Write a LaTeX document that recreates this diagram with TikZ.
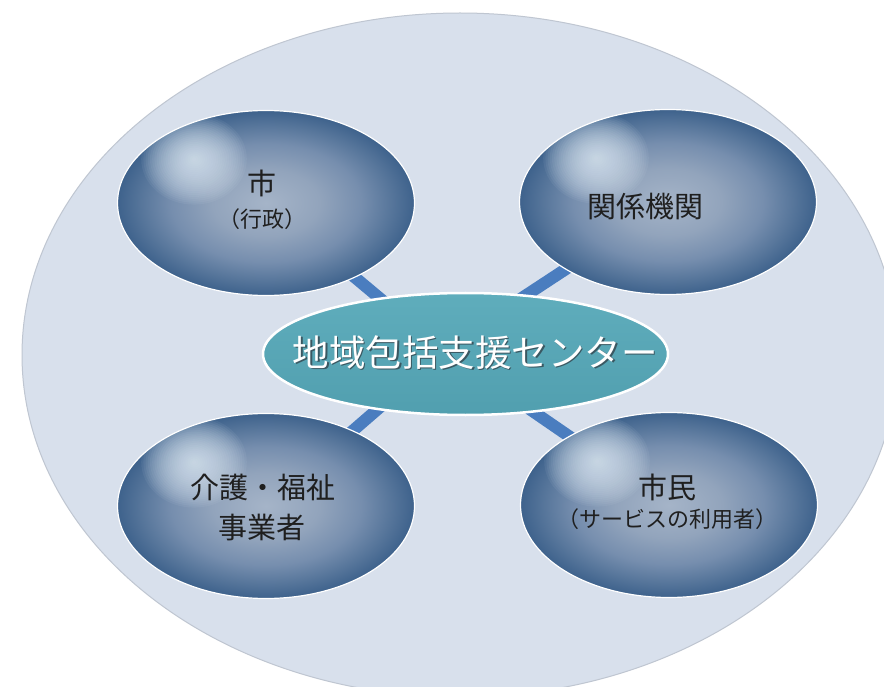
\documentclass[tikz,border=0pt]{standalone}
\usepackage{fontspec}
\newfontfamily\jpfont{Noto Sans CJK JP}
\usetikzlibrary{shapes.geometric,calc}
\definecolor{bgfill}{HTML}{D8E0EC}
\definecolor{bgrim}{HTML}{BFC6D1}
\definecolor{barblue}{HTML}{4A7DBF}
\definecolor{hubtop}{HTML}{5FADBC}
\definecolor{hubbot}{HTML}{519FAF}
\definecolor{hlcol}{HTML}{E8F3FC}
\definecolor{txtcol}{HTML}{1F1F1F}
\definecolor{shadowcol}{HTML}{3A5862}
\definecolor{ballA}{HTML}{A5B4C8}
\definecolor{ballB}{HTML}{92A4BC}
\definecolor{ballC}{HTML}{768EAE}
\definecolor{ballD}{HTML}{57769B}
\definecolor{ballE}{HTML}{3E628C}
\pgfdeclareradialshading{ballshade}{\pgfpointorigin}{color(0bp)=(ballA); color(9bp)=(ballB); color(16bp)=(ballC); color(21bp)=(ballD); color(25bp)=(ballE); color(50bp)=(ballE)}
\pgfdeclarelayer{bg}
\pgfsetlayers{bg,main}
\begin{document}
\begin{tikzpicture}[x=1pt,y=-1pt,
  ball/.style={ellipse, minimum width=297pt, minimum height=185pt, inner sep=0pt,
    shade, shading=ballshade, draw=white, line width=1.2pt,
    path picture={\foreach \k in {1,...,24}{\fill[hlcol, opacity=0.06] ([xshift=-72pt,yshift=44pt]path picture bounding box.center) ellipse [x radius=\k*2.2pt, y radius=\k*1.9pt];}}},
  hub/.style={ellipse, minimum width=405pt, minimum height=122pt, inner sep=0pt,
    top color=hubtop, bottom color=hubbot, draw=white, line width=2.5pt},
  bar/.style={barblue, line width=12pt},
  mainlbl/.style={font=\jpfont\fontsize{29pt}{34pt}\selectfont, text=txtcol, inner sep=0pt},
  sublbl/.style={font=\jpfont\fontsize{22pt}{26pt}\selectfont, text=txtcol, inner sep=0pt},
  hublbl/.style={font=\jpfont\fontsize{36.5pt}{42pt}\selectfont, inner sep=0pt}
]
\useasboundingbox (0,0) rectangle (884,687);

\node[hub] (c) at (465.5,354) {};
\node[ball] (tl) at (266,203) {};
\node[ball] (tr) at (668,202) {};
\node[ball] (bl) at (266,506) {};
\node[ball] (br) at (669,505) {};

\node[mainlbl] (tl1) at (262,183) {市};
\node[sublbl] (tl2) at (262.5,219) {（行政）};
\node[mainlbl] (tr1) at (645,207) {関係機関};
\node[mainlbl] (bl1) at (263,487.5) {介護・福祉};
\node[mainlbl] (bl2) at (262,527.5) {事業者};
\node[mainlbl] (br1) at (667,487.5) {市民};
\node[sublbl] (br2) at (667,519) {（サービスの利用者）};
\node[hublbl] (hubtext) at (475,353) {\makebox[0pt][l]{\kern1.8pt\raisebox{-1.8pt}{\textcolor{shadowcol}{地域包括支援センター}}}\textcolor{white}{地域包括支援センター}};

\begin{pgfonlayer}{bg}
  \fill[white] (0,0) rectangle (884,687);
  \begin{scope}
    \clip (0,0) rectangle (884,687);
    \path[fill=bgfill, draw=bgrim, line width=1pt] (460,355) ellipse [x radius=438pt, y radius=342pt];
  \end{scope}
  \draw[bar] (tl.center) -- ($(c.center)+(0,16)$);
  \draw[bar] (tr.center) -- ($(c.center)+(0,-19)$);
  \draw[bar] (bl.center) -- ($(c.center)+(0,-21)$);
  \draw[bar] (br.center) -- ($(c.center)+(0,11)$);
\end{pgfonlayer}
\end{tikzpicture}
\end{document}
